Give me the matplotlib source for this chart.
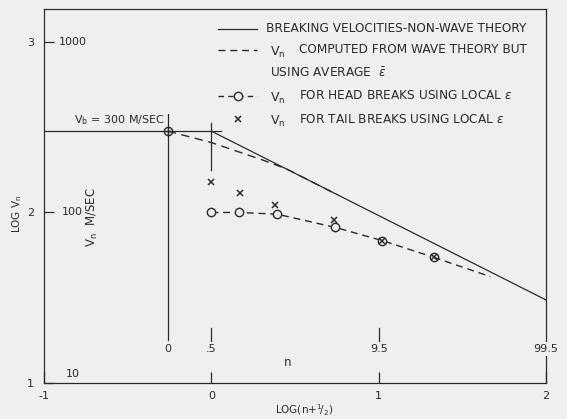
import matplotlib
matplotlib.use("Agg")
import matplotlib.pyplot as plt

# ---- data ----
vb_x = [-0.26]
vb_y = [2.477]
vb_hline_x = [-1.0, 0.06]
vb_vline_x = [-0.26, -0.26]
vb_vline_y = [2.58, 1.252]

nonwave_x = [0.0, 2.0]
nonwave_y = [2.477, 1.487]

avg_eps_x = [-0.26, 0.0, 0.30, 0.45, 0.60, 0.75]
avg_eps_y = [2.477, 2.41, 2.31, 2.255, 2.18, 2.105]

head_x = [0.0, 0.165, 0.393, 0.738, 1.022, 1.329]
head_y = [2.0, 2.0, 1.99, 1.913, 1.835, 1.737]
head_tail_x = [1.329, 1.667]
head_tail_y = [1.737, 1.624]

tail_x = [0.0, 0.169, 0.381, 0.732, 1.022, 1.329]
tail_y = [2.18, 2.116, 2.044, 1.956, 1.835, 1.737]

xticks = [-1, 0, 1, 2]
xtick_labels = ['-1', '0', '1', '2']
yticks = [1, 2, 3]
ytick_labels = ['1', '2', '3']
v_labels = ['10', '100', '1000']
v_label_y = [1.053, 2.0, 3.0]

n_pos = [-0.26, 0.0, 1.0, 2.0]
n_labels = ['0', '.5', '9.5', '99.5']

BG = '#efefef'
INK = '#2b2b2b'

fig = plt.figure(figsize=(5.67, 4.19), dpi=100, facecolor=BG)
ax = fig.add_axes([0.0776, 0.0859, 0.8854, 0.8934], facecolor=BG)
ax.set_xlim(-1, 2)
ax.set_ylim(1, 3.195)
for s in ax.spines.values():
    s.set_color(INK)
    s.set_linewidth(0.9)

ax.set_xticks(xticks)
ax.set_xticklabels(xtick_labels)
ax.set_yticks(yticks)
ax.set_yticklabels(ytick_labels)
ax.tick_params(axis='x', direction='in', length=8, width=0.9, color=INK,
               labelsize=8, labelcolor=INK, pad=6)
ax.tick_params(axis='y', direction='in', length=7, width=0.9, color=INK,
               labelsize=8, labelcolor=INK, pad=7)

lw = 0.9
# Vb reference lines
ax.plot(vb_hline_x, [vb_y[0]] * 2, color=INK, lw=lw)
ax.plot(vb_vline_x, vb_vline_y, color=INK, lw=lw)
ax.plot(vb_x, vb_y, 'o', ms=6, mfc='none', mec=INK, mew=1)
ax.plot(vb_x, vb_y, '+', ms=6, mec=INK, mew=1)

# non-wave theory
ax.plot(nonwave_x, nonwave_y, color=INK, lw=lw)
# average epsilon wave theory
ax.plot(avg_eps_x, avg_eps_y, color=INK, lw=1.0, dashes=(6, 4))
# head breaks
ax.plot(head_x, head_y, color=INK, lw=1.0, dashes=(5, 3.5), marker='o',
        ms=6, mfc=BG, mec=INK, mew=1)
ax.plot(head_tail_x, head_tail_y, color=INK, lw=1.0, dashes=(5, 3.5))
# tail breaks
ax.plot(tail_x, tail_y, 'x', ms=4.5, mec=INK, mew=1.1)

# n-scale ticks and labels
ax.plot([0, 0], [2.525, 2.25], color=INK, lw=lw)
for xp in n_pos[1:3]:
    ax.plot([xp, xp], [1.32, 1.24], color=INK, lw=lw)
for xp, lab in zip(n_pos, n_labels):
    ax.text(xp, 1.2, lab, ha='center', va='center', fontsize=8, color=INK,
            bbox=dict(boxstyle='square,pad=0.15', fc=BG, ec='none'), zorder=5)
ax.text(0.458, 1.123, 'n', ha='center', va='center', fontsize=8.5, color=INK)

# velocity labels
for yv, lab in zip(v_label_y, v_labels):
    ax.text(-0.83, yv, lab, ha='center', va='center', fontsize=8, color=INK)
ax.text(-0.71, 1.975, r'V$_\mathrm{n}$  M/SEC', rotation=90, ha='center',
        va='center', fontsize=8.5, color=INK)
ax.text(-0.28, 2.54, r'V$_\mathrm{b}$ = 300 M/SEC', ha='right', va='center',
        fontsize=8, color=INK)

# legend (manual, matches original layout)
tr = ax.transAxes
lx0, lx1 = 0.347, 0.424
rows = [0.946, 0.890, 0.828, 0.767, 0.705]
ax.plot([lx0, lx1], [rows[0]] * 2, color=INK, lw=lw, transform=tr)
ax.plot([lx0, lx1], [rows[1]] * 2, color=INK, lw=1.0, dashes=(5, 3.5), transform=tr)
ax.plot([lx0, lx1], [rows[3]] * 2, color=INK, lw=1.0, dashes=(4, 3), transform=tr)
ax.plot([(lx0 + lx1) / 2], [rows[3]], 'o', ms=6, mfc=BG, mec=INK, mew=1, transform=tr)
ax.plot([(lx0 + lx1) / 2], [rows[4]], 'x', ms=4.5, mec=INK, mew=1.1, transform=tr)
fs = 8.7
ax.text(0.442, rows[0], 'BREAKING VELOCITIES-NON-WAVE THEORY', transform=tr,
        fontsize=fs, va='center', color=INK)
for r, t in [(rows[1], 'COMPUTED FROM WAVE THEORY BUT'),
             (rows[3], r'FOR HEAD BREAKS USING LOCAL $\epsilon$'),
             (rows[4], r'FOR TAIL BREAKS USING LOCAL $\epsilon$')]:
    ax.text(0.450, r - 0.006, r'V$_\mathrm{n}$', transform=tr, fontsize=fs + 0.3,
            va='center', color=INK)
    ax.text(0.508, r, t, transform=tr, fontsize=fs, va='center', color=INK)
ax.text(0.450, rows[2], r'USING AVERAGE  $\bar{\epsilon}$', transform=tr,
        fontsize=fs, va='center', color=INK)

fig.text(0.536, 0.02, r'LOG(n+$^1\!/_2$)', ha='center', va='center',
         fontsize=7.5, color=INK)
fig.text(0.03, 0.49, r'LOG V$_\mathrm{n}$', rotation=90, ha='center', va='center',
         fontsize=7.5, color=INK)

fig.savefig('out.png', dpi=100, facecolor=BG)
